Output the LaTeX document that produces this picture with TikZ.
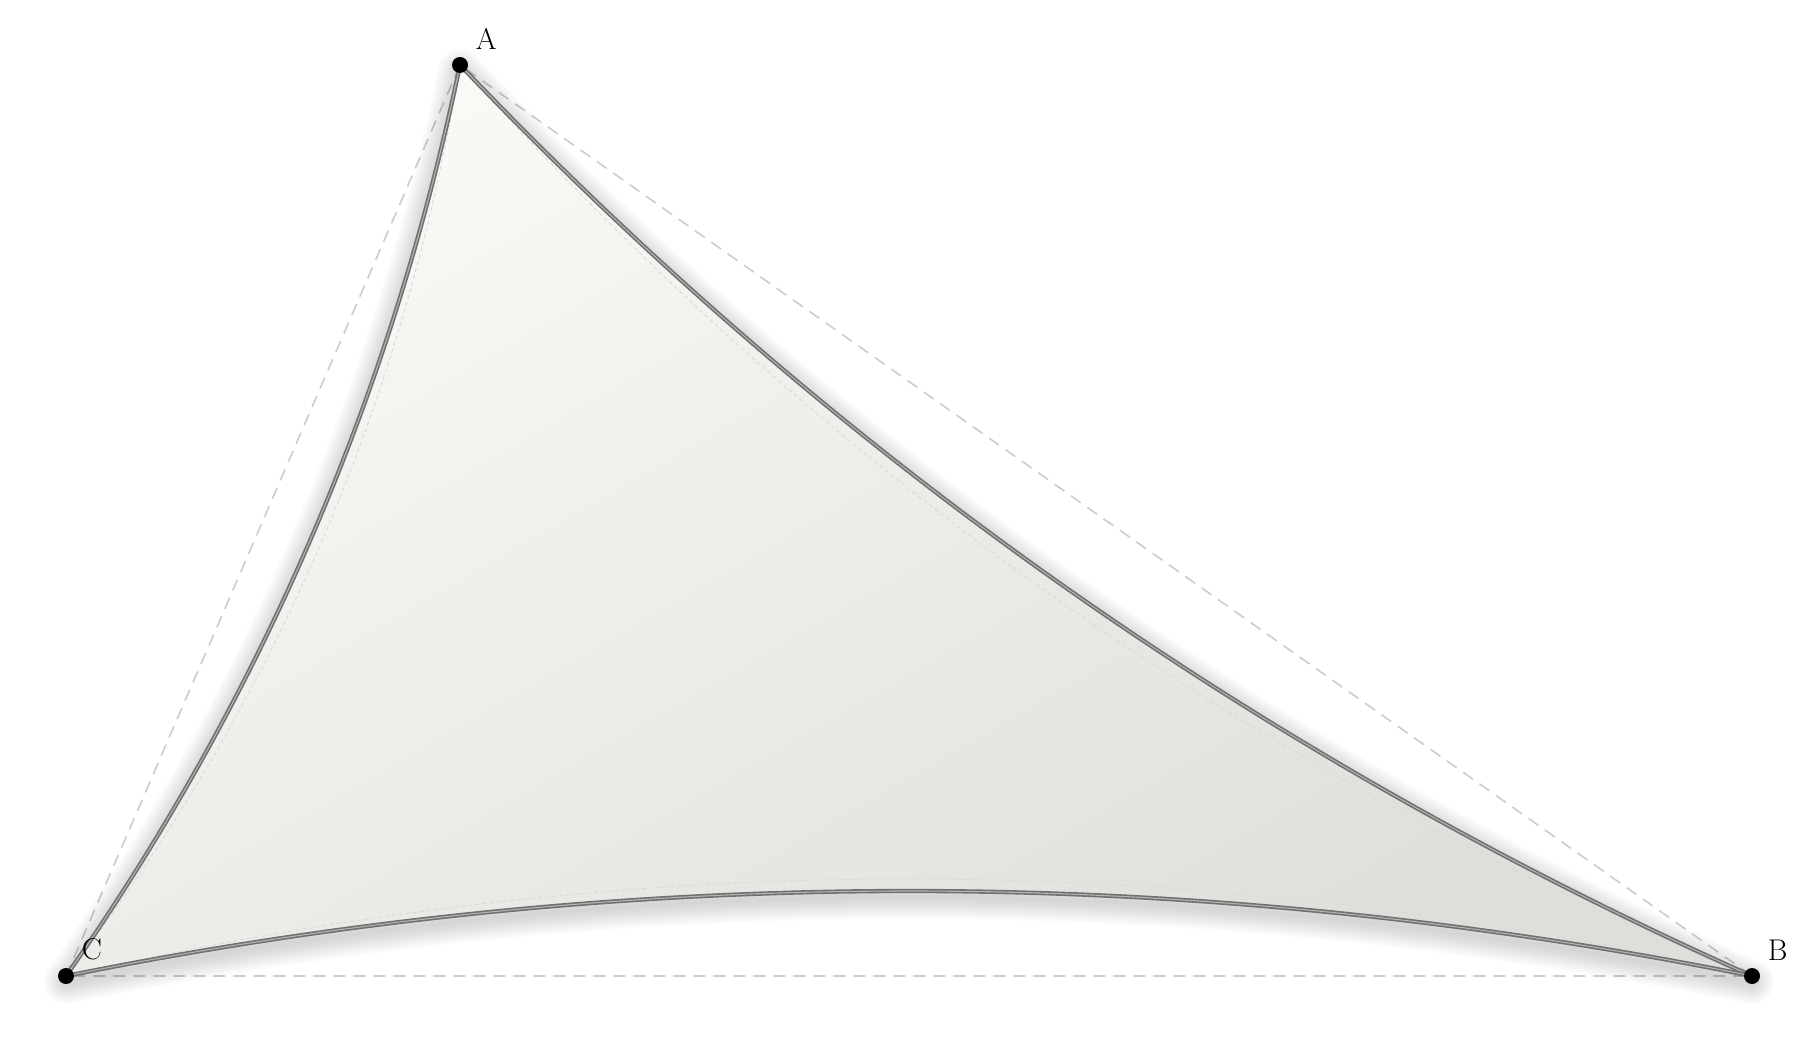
\documentclass[tikz,border=0pt]{standalone}
\usetikzlibrary{calc}

\definecolor{sailhi}{RGB}{251,249,245}
\definecolor{sailmid}{RGB}{247,245,241}
\definecolor{saillo}{RGB}{224,222,218}
\definecolor{ropegray}{RGB}{112,112,112}
\definecolor{guidegray}{RGB}{204,204,204}

\tikzset{every picture/.style={line width=0.55pt},
  pin/.style={circle,fill=black,inner sep=0pt,minimum size=8pt},
  pinlabel/.style={inner sep=0pt,label distance=6.5pt,font=\fontsize{15}{18}\selectfont},
  guide/.style={draw=guidegray,line width=0.8pt,dash pattern={on 6pt off 4pt}},
  rope/.style={draw=ropegray,line width=0.8pt,double=gray!60,double distance=0.55pt},
  seam/.style={draw=white!70!gray,line width=0.45pt,dash pattern={on 2pt off 1.5pt}}}

\begin{document}
\begin{tikzpicture}[x=0.5pt,y=0.5pt,yscale=-1,xscale=1]
  \useasboundingbox (0,0) rectangle (1818,1042);
  % corners and pulls
  \coordinate (A) at (460,65);
  \coordinate (B) at (1752,976);
  \coordinate (C) at (66,976);
  \coordinate (qAB) at (1016,648);
  \coordinate (qCA) at (357,561);
  \coordinate (qBC) at (909,806);
  \coordinate (sAB) at (1000,672);
  \coordinate (sCA) at (377,570);
  \coordinate (sBC) at (909,782);
  % straight guides
  \draw[guide] (C) -- (A) -- (B) -- (C);
  % soft shadow
  \foreach \w in {2,4,...,22}
    \draw[black,opacity=0.016,line width=\w pt,line join=round,transform canvas={yshift=-3pt}]
      (C) .. controls ($(C)!2/3!(qCA)$) and ($(A)!2/3!(qCA)$) .. (A)
          .. controls ($(A)!2/3!(qAB)$) and ($(B)!2/3!(qAB)$) .. (B)
          .. controls ($(B)!2/3!(qBC)$) and ($(C)!2/3!(qBC)$) .. (C) -- cycle;
  % sail
  \path[top color=sailhi,middle color=sailmid,bottom color=saillo,shading angle=30]
      (C) .. controls ($(C)!2/3!(qCA)$) and ($(A)!2/3!(qCA)$) .. (A)
          .. controls ($(A)!2/3!(qAB)$) and ($(B)!2/3!(qAB)$) .. (B)
          .. controls ($(B)!2/3!(qBC)$) and ($(C)!2/3!(qBC)$) .. (C) -- cycle;
  % seams
  \draw[seam] (C) .. controls ($(C)!2/3!(sCA)$) and ($(A)!2/3!(sCA)$) .. (A);
  \draw[seam] (A) .. controls ($(A)!2/3!(sAB)$) and ($(B)!2/3!(sAB)$) .. (B);
  \draw[seam] (B) .. controls ($(B)!2/3!(sBC)$) and ($(C)!2/3!(sBC)$) .. (C);
  % edges
  \draw[rope] (C) .. controls ($(C)!2/3!(qCA)$) and ($(A)!2/3!(qCA)$) .. (A);
  \draw[rope] (A) .. controls ($(A)!2/3!(qAB)$) and ($(B)!2/3!(qAB)$) .. (B);
  \draw[rope] (B) .. controls ($(B)!2/3!(qBC)$) and ($(C)!2/3!(qBC)$) .. (C);
  % pins
  \node[pin,label={[pinlabel]45:A}] (pinA) at (A) {};
  \node[pin,label={[pinlabel]45:B}] (pinB) at (B) {};
  \node[pin,label={[pinlabel]45:C}] (pinC) at (C) {};
\end{tikzpicture}
\end{document}
